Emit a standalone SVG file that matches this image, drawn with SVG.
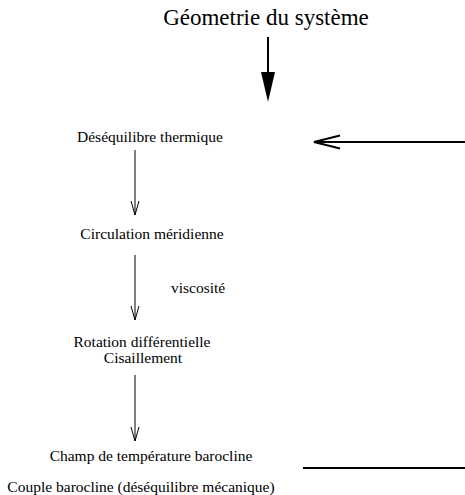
<svg xmlns="http://www.w3.org/2000/svg" width="465" height="495" viewBox="0 0 465 495">
  <style>
    text { font-family: "Liberation Serif", "Times New Roman", serif; fill: #000; }
    .lbl { font-size: 15.5px; text-anchor: middle; }
    .title { font-size: 23px; text-anchor: middle; }
    .thin { stroke: #000; stroke-width: 1; fill: none; }
    .thick { stroke: #000; stroke-width: 2; fill: none; }
  </style>
  <defs>
    <marker id="openHead" markerWidth="16" markerHeight="10" refX="15" refY="5" orient="auto" markerUnits="userSpaceOnUse">
      <path d="M1,1 L15,5 L1,9" fill="none" stroke="#000" stroke-width="1"/>
    </marker>
  </defs>

  <g id="title">
    <text class="title" x="266" y="25">Géometrie du système</text>
  </g>
  <g id="n1"><text class="lbl" x="150" y="142">Déséquilibre thermique</text></g>
  <g id="n2"><text class="lbl" x="152" y="239">Circulation méridienne</text></g>
  <g id="n3">
    <text class="lbl" x="142" y="347">Rotation différentielle</text>
    <text class="lbl" x="143" y="363">Cisaillement</text>
  </g>
  <g id="n4"><text class="lbl" x="151" y="461">Champ de température barocline</text></g>
  <g id="n5"><text class="lbl" x="141" y="492">Couple barocline (déséquilibre mécanique)</text></g>
  <g id="lbl-visc"><text x="171" y="293" style="font-size:15.5px">viscosité</text></g>

  <g id="connectors">
    <!-- heavy arrow from the geometry title -->
    <line class="thick" x1="268" y1="37" x2="268" y2="75"/>
    <polygon points="261,72 275,72 268,102" fill="#000"/>
    <!-- thin flow arrows -->
    <line class="thin" x1="135" y1="150" x2="135" y2="215" marker-end="url(#openHead)"/>
    <line class="thin" x1="135" y1="255" x2="135" y2="320" marker-end="url(#openHead)"/>
    <line class="thin" x1="135" y1="375" x2="135" y2="441" marker-end="url(#openHead)"/>
    <!-- feedback loop: return line and arrow into thermal imbalance -->
    <line class="thick" x1="465" y1="142" x2="315" y2="142"/>
    <path class="thick" d="M340,135.5 L314,142 L340,148.5"/>
    <line class="thick" x1="303" y1="468" x2="465" y2="468"/>
  </g>
</svg>
